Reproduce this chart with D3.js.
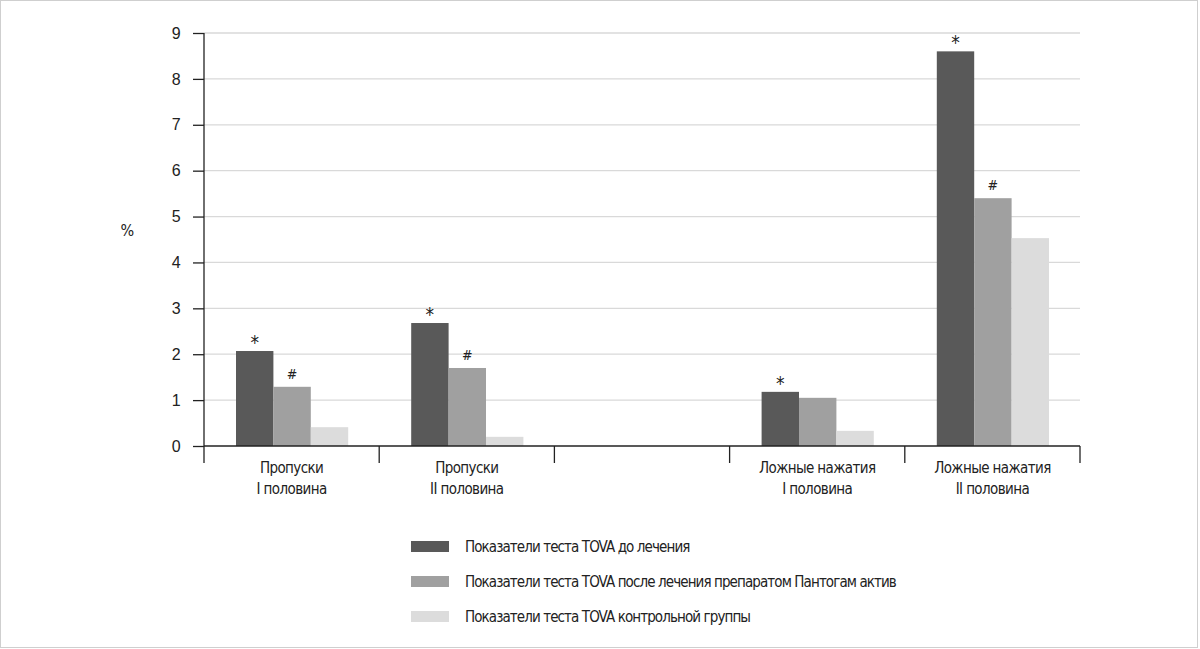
<!DOCTYPE html>
<html>
<head>
<meta charset="utf-8">
<script src="https://cdn.jsdelivr.net/npm/d3@7.9.0/dist/d3.min.js"></script>
<style>
  html, body { margin: 0; padding: 0; background: #fff; }
  svg { display: block; font-family: "Liberation Sans Narrow", "DejaVu Sans Condensed", "Roboto", sans-serif; }
  svg text { letter-spacing: -0.6px; }
  svg .legend-text { letter-spacing: -0.9px; }
</style>
</head>
<body>
<svg id="chart" width="1200" height="649"></svg>
<script>
// categories (third group is an empty gap in the original)
const categories = ['c1', 'c2', 'c3', 'c4', 'c5'];
const categoryLabels = [
  ['Пропуски', 'I половина'],
  ['Пропуски', 'II половина'],
  ['', ''],
  ['Ложные нажатия', 'I половина'],
  ['Ложные нажатия', 'II половина']
];
const seriesNames = [
  'Показатели теста TOVA до лечения',
  'Показатели теста TOVA после лечения препаратом Пантогам актив',
  'Показатели теста TOVA контрольной группы'
];
const beforeValues  = [2.07, 2.68, null, 1.18, 8.6];
const afterValues   = [1.29, 1.70, null, 1.05, 5.4];
const controlValues = [0.41, 0.20, null, 0.33, 4.53];
const beforeMarks = ['*', '*', '', '*', '*'];
const afterMarks  = ['#', '#', '', '', '#'];
const yTicks = [0, 1, 2, 3, 4, 5, 6, 7, 8, 9];

const colors = ['#595959', '#a0a0a0', '#dcdcdc'];
const seriesValues = [beforeValues, afterValues, controlValues];
const seriesMarks = [beforeMarks, afterMarks, null];

const svg = d3.select('#chart');

// light frame around the picture
svg.append('rect')
  .attr('x', 0.5).attr('y', 0.5)
  .attr('width', 1197).attr('height', 647)
  .attr('fill', 'none').attr('stroke', '#cfcfcf');

const x0 = d3.scaleBand().domain(categories).range([204, 1080]);
const x1 = d3.scaleBand().domain(d3.range(3)).range([32, x0.bandwidth() - 31]);
const y = d3.scaleLinear().domain([0, 9]).range([446, 33]);

// gridlines
svg.append('g')
  .selectAll('line')
  .data(yTicks.filter(d => d > 0))
  .join('line')
  .attr('x1', 204).attr('x2', 1080)
  .attr('y1', d => y(d)).attr('y2', d => y(d))
  .attr('stroke', '#d9d9d9').attr('stroke-width', 1.3);

// bars
categories.forEach((c, i) => {
  const g = svg.append('g').attr('transform', `translate(${x0(c)},0)`);
  seriesValues.forEach((vals, s) => {
    const v = vals[i];
    if (v == null) return;
    g.append('rect')
      .attr('x', x1(s))
      .attr('y', y(v))
      .attr('width', x1.bandwidth())
      .attr('height', y(0) - y(v))
      .attr('fill', colors[s]);
    const marks = seriesMarks[s];
    if (marks && marks[i]) {
      const star = marks[i] === '*';
      g.append('text')
        .attr('x', x1(s) + x1.bandwidth() / 2)
        .attr('y', y(v) - (star ? 2 : 8))
        .attr('text-anchor', 'middle')
        .attr('font-size', star ? 19 : 14)
        .attr('fill', '#222')
        .style('letter-spacing', '0')
        .text(marks[i]);
    }
  });
});

// y axis
const yAxis = svg.append('g')
  .attr('transform', 'translate(204,0)')
  .call(d3.axisLeft(y).tickValues(yTicks).tickSize(11).tickPadding(13));
yAxis.select('.domain').attr('stroke', '#222').attr('stroke-width', 1.3).attr('d', `M0,${y(9)}V${y(0) + 17}`);
yAxis.selectAll('.tick line').attr('stroke', '#222').attr('stroke-width', 1.3);
yAxis.selectAll('.tick text').attr('font-size', 16).attr('fill', '#222')
  .attr('font-family', 'inherit');

// x axis baseline and separators
svg.append('line')
  .attr('x1', 204).attr('x2', 1080)
  .attr('y1', y(0)).attr('y2', y(0))
  .attr('stroke', '#222').attr('stroke-width', 1.3);
svg.append('g')
  .selectAll('line')
  .data(categories.map(c => x0(c) + x0.bandwidth()))
  .join('line')
  .attr('x1', d => d).attr('x2', d => d)
  .attr('y1', y(0)).attr('y2', y(0) + 17)
  .attr('stroke', '#222').attr('stroke-width', 1.3);

// category labels
categories.forEach((c, i) => {
  const t = svg.append('text')
    .attr('x', x0(c) + x0.bandwidth() / 2)
    .attr('y', 473)
    .attr('text-anchor', 'middle')
    .attr('font-size', 15)
    .attr('fill', '#222');
  categoryLabels[i].forEach((line, k) => {
    t.append('tspan')
      .attr('x', x0(c) + x0.bandwidth() / 2)
      .attr('dy', k === 0 ? 0 : 21)
      .text(line);
  });
});

// y axis title
svg.append('text')
  .attr('x', 127).attr('y', 236)
  .attr('text-anchor', 'middle')
  .attr('font-size', 16)
  .attr('fill', '#222')
  .text('%');

// legend
const legend = svg.append('g').attr('transform', 'translate(411,541)');
seriesNames.forEach((name, s) => {
  const row = legend.append('g').attr('transform', `translate(0,${s * 35})`);
  row.append('rect')
    .attr('width', 38).attr('height', 11)
    .attr('fill', colors[s]);
  row.append('text')
    .attr('class', 'legend-text')
    .attr('x', 54).attr('y', 11)
    .attr('font-size', 15)
    .attr('fill', '#222')
    .text(name);
});
</script>
</body>
</html>
